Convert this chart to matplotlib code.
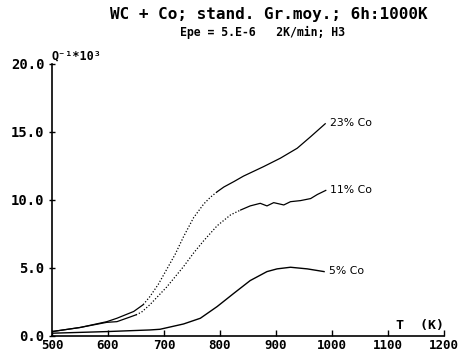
import matplotlib
matplotlib.use("Agg")
import matplotlib.pyplot as plt

# --- data ---
T_23 = [500, 550, 598, 616, 646, 663, 675, 690, 705, 720, 735, 753, 771, 783, 795, 807, 825, 842, 860, 878, 908, 938, 962, 988]
Q_23 = [0.32, 0.62, 1.05, 1.3, 1.8, 2.3, 2.9, 3.8, 4.9, 6.0, 7.3, 8.7, 9.7, 10.2, 10.6, 10.95, 11.35, 11.75, 12.1, 12.45, 13.07, 13.8, 14.65, 15.6]
dot_23 = (5, 14)   # index range drawn dotted by the plotter

T_11 = [500, 550, 598, 616, 640, 650, 660, 675, 705, 735, 753, 771, 795, 819, 837, 854, 872, 884, 896, 914, 926, 944, 962, 974, 989]
Q_11 = [0.32, 0.62, 1.0, 1.05, 1.4, 1.55, 1.75, 2.3, 3.6, 5.1, 6.1, 7.0, 8.1, 8.9, 9.26, 9.56, 9.75, 9.56, 9.8, 9.63, 9.87, 9.95, 10.1, 10.4, 10.7]
dot_11 = (5, 14)

T_5 = [500, 598, 675, 693, 735, 765, 795, 825, 854, 884, 902, 926, 956, 986]
Q_5 = [0.2, 0.32, 0.44, 0.49, 0.88, 1.3, 2.16, 3.14, 4.07, 4.73, 4.93, 5.05, 4.93, 4.73]

labels = ["23% Co", "11% Co", "5% Co"]
x_ticks = [500, 600, 700, 800, 900, 1000, 1100, 1200]
y_ticks = [0, 5, 10, 15, 20]

mono = "DejaVu Sans Mono"

fig = plt.figure(figsize=(4.6, 3.57), dpi=100)
ax = fig.add_axes([0.113, 0.059, 0.852, 0.762])

def draw(T, Q, dots):
    a, b = dots
    ax.plot(T[:a + 1], Q[:a + 1], color="black", lw=0.9)
    ax.plot(T[a:b + 1], Q[a:b + 1], color="black", lw=0.9, ls=(0, (1, 1.5)))
    ax.plot(T[b:], Q[b:], color="black", lw=0.9)

draw(T_23, Q_23, dot_23)
draw(T_11, Q_11, dot_11)
ax.plot(T_5, Q_5, color="black", lw=1.0)

for T, Q, lab in [(T_23, Q_23, labels[0]), (T_11, Q_11, labels[1]), (T_5, Q_5, labels[2])]:
    ax.text(T[-1] + 8, Q[-1] + 0.05, lab, fontsize=7.8, family="DejaVu Sans",
            va="center", ha="left")

ax.set_xlim(500, 1200)
ax.set_ylim(0, 20)
ax.set_xticks(x_ticks)
ax.set_yticks(y_ticks)
ax.set_xticklabels([str(v) for v in x_ticks], family=mono, fontweight="bold", fontsize=9)
ax.set_yticklabels([f"{v:.1f}" for v in y_ticks], family=mono, fontweight="bold", fontsize=10)
ax.tick_params(axis="x", direction="in", length=4, width=1, pad=2)
ax.tick_params(axis="y", direction="inout", length=5, width=1, pad=3)

for s in ["top", "right"]:
    ax.spines[s].set_visible(False)
for s in ["left", "bottom"]:
    ax.spines[s].set_linewidth(1.2)

ax.text(0.0, 1.005, "Q\u207b\u00b9*10\u00b3", transform=ax.transAxes, family=mono,
        fontweight="bold", fontsize=8.5, ha="left", va="bottom")
ax.text(1.0, 0.015, "T  (K)", transform=ax.transAxes, family=mono,
        fontweight="bold", fontsize=9.5, ha="right", va="bottom")

fig.text(0.585, 0.958, "WC + Co; stand. Gr.moy.; 6h:1000K", family=mono,
         fontweight="bold", fontsize=11.5, ha="center", va="center")
fig.text(0.57, 0.91, "Epe = 5.E-6   2K/min; H3", family=mono,
         fontweight="bold", fontsize=8.3, ha="center", va="center")

fig.savefig("out.png", dpi=100)
